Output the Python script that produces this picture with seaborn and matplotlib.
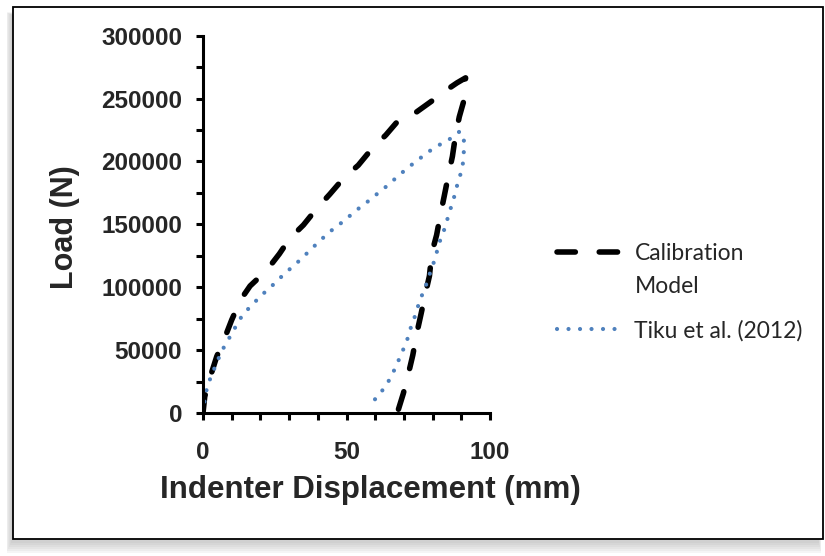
import matplotlib
matplotlib.use("Agg")
import matplotlib.pyplot as plt
from matplotlib.patches import Rectangle
from matplotlib.ticker import MultipleLocator, FuncFormatter
from matplotlib.legend_handler import HandlerLine2D
import seaborn as sns
import pandas as pd

# Calibration model: loading branch then unloading branch
disp_cal = [0, 0.6, 2.7, 4.8, 7.7, 10.0, 13.1, 16.4, 22.2, 26.6, 30.3, 35.0,
            39.6, 44.2, 49.1, 54.1, 58.8, 63.7, 68.4, 71.5, 74.5, 80.3, 85.6,
            88.5, 91.5, 91.1, 89.3, 88.0, 86.9, 85.5, 84.1, 82.8, 81.4, 79.7,
            78.9, 77.5, 76.0, 74.5, 73.1, 71.6, 69.8, 67.7]
load_cal = [0, 13000, 30000, 45000, 60500, 74000, 90000, 101000, 113500,
            126500, 139000, 149500, 162500, 174000, 187000, 197000, 210000,
            221000, 233500, 237500, 239500, 249000, 258000, 262500, 266500,
            250000, 235500, 221000, 204000, 189000, 173000, 158500, 141500,
            127000, 109000, 95000, 79000, 63500, 46000, 31500, 15500, 0]

# Tiku et al. (2012) measurements
disp_tiku = [0, 0.7, 1.5, 3.0, 4.5, 6.2, 8.0, 10.2, 12.1, 14.3, 17.2, 20.0,
             23.1, 26.0, 29.0, 32.1, 35.1, 38.0, 41.0, 44.1, 47.3, 50.5, 53.6,
             56.8, 60.0, 63.3, 66.3, 69.3, 72.5, 75.9, 79.1, 82.6, 86.1, 89.5,
             90.9, 90.9, 90.7, 89.8, 88.6, 87.6, 86.4, 85.2, 84.0, 82.6, 81.4,
             80.3, 78.9, 77.6, 76.1, 74.7, 73.5, 72.1, 71.0, 69.3, 67.7, 66.0,
             64.1, 61.7, 59.0]
load_tiku = [0, 12000, 21500, 30000, 38500, 47500, 55500, 63500, 72000, 79500,
             86000, 93000, 99000, 105500, 112000, 118000, 124500, 131000,
             137500, 144000, 149500, 155500, 161500, 167000, 173000, 179000,
             185000, 191000, 197000, 203000, 208500, 213500, 218000, 224000,
             218000, 209000, 200000, 190500, 181500, 172500, 163500, 154500,
             145500, 137000, 127500, 119000, 110000, 101000, 92500, 83500,
             74500, 66000, 57000, 48000, 39500, 31000, 23000, 15500, 8500]

series_labels = ["Calibration\nModel", "Tiku et al. (2012)"]
x_label = "Indenter Displacement (mm)"
y_label = "Load (N)"

df_cal = pd.DataFrame({"disp": disp_cal, "load": load_cal})
df_tiku = pd.DataFrame({"disp": disp_tiku, "load": load_tiku})

sns.set_style("white")
plt.rcParams["font.family"] = ["Liberation Sans", "DejaVu Sans"]

W, H = 825, 556
fig = plt.figure(figsize=(W / 100, H / 100), dpi=100)
fig.patch.set_facecolor("white")


def px_rect(x0, y0, x1, y1):
    """Rectangle in figure fraction from pixel corners (top-left origin)."""
    return (x0 / W, 1 - y1 / H), (x1 - x0) / W, (y1 - y0) / H


# soft drop shadow behind the chart frame (left and bottom)
for i in range(6):
    xy, w, h = px_rect(13 - 6.5 + i * 0.9, 12 + i * 0.6, 823 - 2 - i * 0.5, 539 + 14 - i * 2.0)
    fig.patches.append(Rectangle(xy, w, h, transform=fig.transFigure,
                                 facecolor="#9a9a9a", edgecolor="none",
                                 alpha=0.09, zorder=0))
xy, w, h = px_rect(13, 7, 823, 539)
fig.patches.append(Rectangle(xy, w, h, transform=fig.transFigure,
                             facecolor="white", edgecolor="black",
                             linewidth=1.3, zorder=1))

ax = fig.add_axes([203 / W, 1 - 413 / H, (490 - 203) / W, (413 - 35.7) / H])
ax.set_facecolor("none")
ax.set_zorder(2)

sns.lineplot(data=df_cal, x="disp", y="load", sort=False, estimator=None,
             ax=ax, color="black", linewidth=4.0,
             linestyle=(0, (3.3, 4.3)), dash_capstyle="round",
             label=series_labels[0])
sns.lineplot(data=df_tiku, x="disp", y="load", sort=False, estimator=None,
             ax=ax, color="#4F81BD", linewidth=3.0,
             linestyle=(0, (0.01, 2.75)), dash_capstyle="round",
             label=series_labels[1])

ax.set_xlim(0, 100)
ax.set_ylim(0, 300000)
ax.xaxis.set_major_locator(MultipleLocator(50))
ax.xaxis.set_minor_locator(MultipleLocator(10))
ax.yaxis.set_major_locator(MultipleLocator(50000))
ax.yaxis.set_minor_locator(MultipleLocator(25000))
ax.yaxis.set_major_formatter(FuncFormatter(lambda v, p: f"{int(v)}"))

for side in ["top", "right"]:
    ax.spines[side].set_visible(False)
for side in ["left", "bottom"]:
    ax.spines[side].set_linewidth(2.2)
    ax.spines[side].set_color("black")
    ax.spines[side].set_capstyle("projecting")

ax.tick_params(which="both", direction="out", length=5, width=2.2,
               color="black", bottom=True, left=True)
ax.tick_params(axis="x", which="major", pad=15)
ax.tick_params(axis="y", which="major", pad=10)
ax.tick_params(which="major", labelsize=17.5)
for lab in ax.get_xticklabels() + ax.get_yticklabels():
    lab.set_fontweight("bold")

ax.set_xlabel(x_label, fontsize=22.5, fontweight="bold")
ax.set_ylabel(y_label, fontsize=22, fontweight="bold")
ax.xaxis.set_label_coords((370 - 203) / (490 - 203), -(490 - 413) / (413 - 35.7))
ax.yaxis.set_label_coords(-(203 - 65) / (490 - 203), (413 - 227) / (413 - 35.7))
ax.xaxis.label.set_va("center")
ylab = ax.yaxis.label
ylab.set_rotation_mode("anchor")
ylab.set_ha("center")
ylab.set_va("center")


class FirstLineHandler(HandlerLine2D):
    """Line handle lifted to sit beside the first line of a two-line label."""

    def __init__(self, lift, **kw):
        super().__init__(**kw)
        self.lift = lift

    def create_artists(self, legend, orig_handle, xdescent, ydescent, width,
                       height, fontsize, trans):
        arts = super().create_artists(legend, orig_handle, xdescent, ydescent,
                                      width, height, fontsize, trans)
        for a in arts:
            a.set_ydata([y + self.lift for y in a.get_ydata()])
        return arts


handles, labels = ax.get_legend_handles_labels()
leg = ax.legend(handles, labels, loc="upper left",
                bbox_to_anchor=(557 / W, 1 - 243 / H),
                bbox_transform=fig.transFigure, frameon=False,
                prop={"family": "Lato", "size": 16.5},
                handlelength=2.75, handletextpad=0.63, labelspacing=1.0,
                borderpad=0, borderaxespad=0,
                handler_map={handles[0]: FirstLineHandler(13.0)})
for t in leg.get_texts():
    t.set_linespacing(1.7)

fig.savefig("out.png", dpi=100, facecolor="white")
